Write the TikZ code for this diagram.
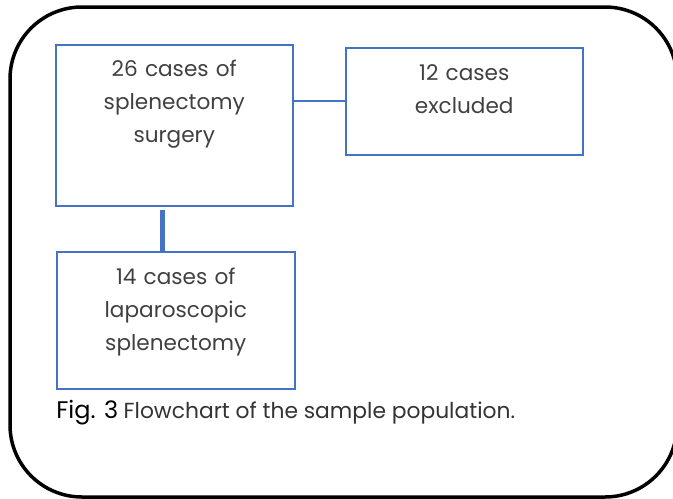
\documentclass[tikz,border=0pt]{standalone}
\usepackage{fontspec}
\setmainfont{Poppins}
\usetikzlibrary{positioning}
\definecolor{boxblue}{RGB}{68,114,196}
\tikzstyle{casebox} = [rectangle, draw=boxblue, line width=0.75pt, inner sep=0pt,
    align=center, anchor=north west, text=black!75, font=\fontsize{10.8}{16.5}\selectfont]
\tikzstyle{line} = [draw=boxblue, line width=0.8pt]
\tikzstyle{stemline} = [draw=boxblue, line width=2.5pt]
\tikzstyle{frame} = [draw, line width=1.75pt, rounded corners=36pt]

\begin{document}
\begin{tikzpicture}[x=0.5pt, y=-0.5pt]
    \useasboundingbox (0,0) rectangle (673,498);
    % outer frame
    \path [frame] (10,7) rectangle (677,497);

    % Place nodes
    \node [casebox, text width=118.5pt, text height=16pt, text depth=64.5pt] (surgery) at (55,44)
        {26 cases of\\splenectomy\\surgery};
    \node [casebox, text width=118.5pt, text height=16.5pt, text depth=37pt] (excluded) at (345,47)
        {12 cases\\excluded};
    \node [casebox, text width=119pt, text height=16.5pt, text depth=52pt] (laparoscopic) at (56,251)
        {14 cases of\\laparoscopic\\splenectomy};

    \node [anchor=base west, inner sep=0pt] (figcaption) at (56,418)
        {{\fontsize{12}{14}\selectfont Fig. 3} {\color{black!80}\fontsize{10.9}{12}\selectfont Flowchart of the sample population.}};

    \coordinate (stem) at (162.5,0);

    \path [line] (surgery.east |- excluded.west) -- (excluded.west);
    \path [stemline, shorten <=1.5pt] (surgery.south -| stem) -- (laparoscopic.north -| stem);
\end{tikzpicture}
\end{document}
